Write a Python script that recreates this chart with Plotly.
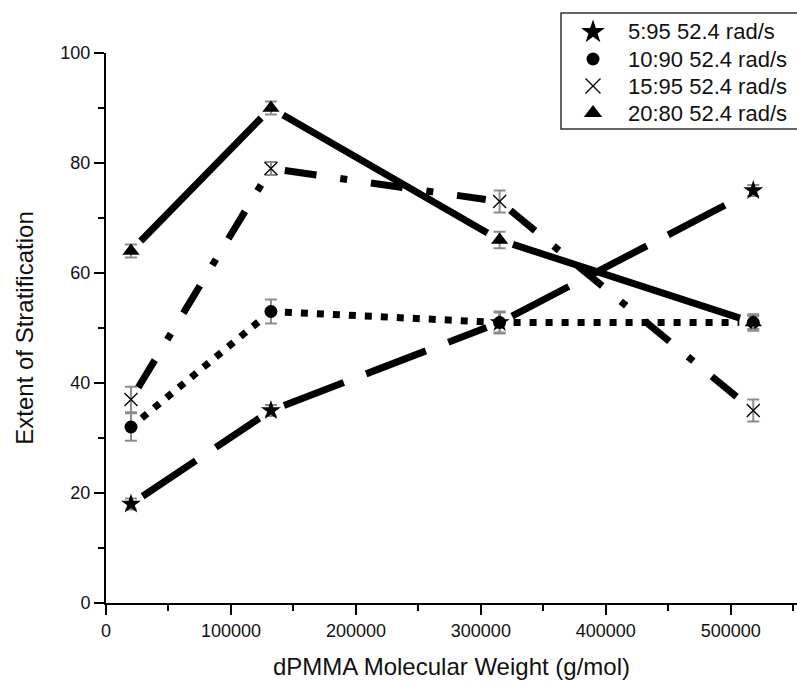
import plotly.graph_objects as go

# dPMMA molecular weights (g/mol)
mw = [20000, 132000, 315000, 518000]

# Extent of stratification for each blend ratio (52.4 rad/s)
strat_5_95 = [18, 35, 51, 75]
strat_10_90 = [32, 53, 51, 51]
strat_15_95 = [37, 79, 73, 35]
strat_20_80 = [64, 90, 66, 51]

# Standard errors
err_5_95 = [1.0, 1.0, 1.8, 1.0]
err_10_90 = [2.5, 2.2, 2.0, 1.2]
err_15_95 = [2.3, 1.2, 2.0, 2.0]
err_20_80 = [1.2, 1.2, 1.5, 1.5]

labels = ["5:95 52.4 rad/s", "10:90 52.4 rad/s", "15:95 52.4 rad/s", "20:80 52.4 rad/s"]

W, H = 797, 685
ML, MB = 106, 82          # left / bottom margins in px
PLOT_TOP = 53             # top edge of the data area in px
X_RANGE = [0, 553000]
Y_RANGE = [0, 100]
PW = W - ML
PAPER_H = H - MB          # paper spans the top of the figure down to the x axis
PH = PAPER_H - PLOT_TOP

def to_px(x, y):
    px = (x - X_RANGE[0]) / (X_RANGE[1] - X_RANGE[0]) * PW
    py = (y - Y_RANGE[0]) / (Y_RANGE[1] - Y_RANGE[0]) * PH
    return px, py

def to_data(px, py):
    x = X_RANGE[0] + px / PW * (X_RANGE[1] - X_RANGE[0])
    y = Y_RANGE[0] + py / PH * (Y_RANGE[1] - Y_RANGE[0])
    return x, y

def gapped_segments(xs, ys, gap=14):
    """Connect consecutive points with segments that stop short of the symbols."""
    out_x, out_y = [], []
    for i in range(len(xs) - 1):
        x0, y0 = to_px(xs[i], ys[i])
        x1, y1 = to_px(xs[i + 1], ys[i + 1])
        dx, dy = x1 - x0, y1 - y0
        d = (dx * dx + dy * dy) ** 0.5
        ux, uy = dx / d, dy / d
        a = to_data(x0 + ux * gap, y0 + uy * gap)
        b = to_data(x1 - ux * gap, y1 - uy * gap)
        out_x += [a[0], b[0], None]
        out_y += [a[1], b[1], None]
    return out_x, out_y

# (values, errors, symbol, size, key size, dash)
series = [
    (strat_5_95, err_5_95, "star", 15, 18, "64px,24px"),
    (strat_10_90, err_10_90, "circle", 13, 13, "7px,9px"),
    (strat_15_95, err_15_95, "x-thin-open", 13, 15, "32px,24px,7px,24px"),
    (strat_20_80, err_20_80, "triangle-up", 15, 16, "solid"),
]

fig = go.Figure()

for vals, errs, sym, size, lsize, dash in series:
    sx, sy = gapped_segments(mw, vals)
    fig.add_trace(go.Scatter(
        x=sx, y=sy, mode="lines", connectgaps=False, showlegend=False,
        line=dict(color="black", width=7, dash=dash), hoverinfo="skip",
    ))

for (vals, errs, sym, size, lsize, dash), name in zip(series, labels):
    marker = dict(symbol=sym, size=size, color="black")
    if sym == "x-thin-open":
        marker["line"] = dict(color="black", width=1.3)
    fig.add_trace(go.Scatter(
        x=mw, y=vals, mode="markers", name=name, marker=marker, showlegend=False,
        error_y=dict(type="data", array=errs, visible=True,
                     color="#8c8c8c", thickness=2, width=6),
    ))

# Key box in the upper right, laid out on a pixel-unit helper axis pair
FONT = "Liberation Sans, Arial, sans-serif"
KEY_LEFT, KEY_TOP, KEY_BOTTOM = 561, 13, 129
KEY_SYM_X, KEY_TEXT_X, KEY_ROW0, KEY_ROW_STEP = 593, 626, 32, 27

def paper_x(px):
    return (px - ML) / PW

def paper_y(py):
    return (PAPER_H - py) / PAPER_H

fig.add_shape(
    type="rect", xref="paper", yref="paper", layer="below",
    x0=paper_x(KEY_LEFT), x1=1.2, y0=paper_y(KEY_BOTTOM), y1=paper_y(KEY_TOP),
    line=dict(color="#333", width=1.5), fillcolor="white",
)
for i, ((vals, errs, sym, size, lsize, dash), name) in enumerate(zip(series, labels)):
    row_y = KEY_ROW0 + i * KEY_ROW_STEP
    marker = dict(symbol=sym, size=lsize, color="black")
    if sym == "x-thin-open":
        marker["line"] = dict(color="black", width=1.3)
    fig.add_trace(go.Scatter(
        x=[KEY_SYM_X], y=[row_y], xaxis="x2", yaxis="y2", mode="markers",
        marker=marker, showlegend=False, cliponaxis=False, hoverinfo="skip",
    ))
    fig.add_annotation(
        text=name, xref="paper", yref="paper",
        x=paper_x(KEY_TEXT_X), y=paper_y(row_y),
        xanchor="left", yanchor="middle", showarrow=False,
        font=dict(family=FONT, size=22, color="#111"),
    )

axis_font = dict(family=FONT, size=18, color="#111")
title_font = dict(family=FONT, size=24, color="#111")

fig.update_layout(
    width=W, height=H,
    margin=dict(l=ML, r=0, t=0, b=MB, autoexpand=False),
    plot_bgcolor="rgba(0,0,0,0)", paper_bgcolor="white",
    showlegend=False,
    xaxis=dict(
        range=X_RANGE, tickmode="linear", tick0=0, dtick=100000, tickformat="d",
        ticks="outside", ticklen=10, tickwidth=2, tickcolor="black",
        showline=True, linecolor="black", linewidth=2, showgrid=False, zeroline=False,
        minor=dict(ticks="outside", ticklen=6, tickwidth=2, tickcolor="black", dtick=50000, showgrid=False),
        tickfont=axis_font,
        title=dict(text="dPMMA Molecular Weight (g/mol)", font=title_font, standoff=19),
        automargin=False,
    ),
    yaxis=dict(
        domain=[0, PH / PAPER_H],
        range=Y_RANGE, tickmode="linear", tick0=0, dtick=20,
        ticks="outside", ticklen=10, tickwidth=2, tickcolor="black",
        showline=True, linecolor="black", linewidth=2, showgrid=False, zeroline=False,
        minor=dict(ticks="outside", ticklen=6, tickwidth=2, tickcolor="black", dtick=10, showgrid=False),
        tickfont=axis_font,
        title=dict(text="Extent of Stratification", font=title_font, standoff=20),
        automargin=False,
    ),
    xaxis2=dict(domain=[0, 1], anchor="y2", range=[ML, W], visible=False, fixedrange=True),
    yaxis2=dict(domain=[0, 1], anchor="x2", range=[PAPER_H, 0], visible=False, fixedrange=True),
)

fig.write_html("out.html")
